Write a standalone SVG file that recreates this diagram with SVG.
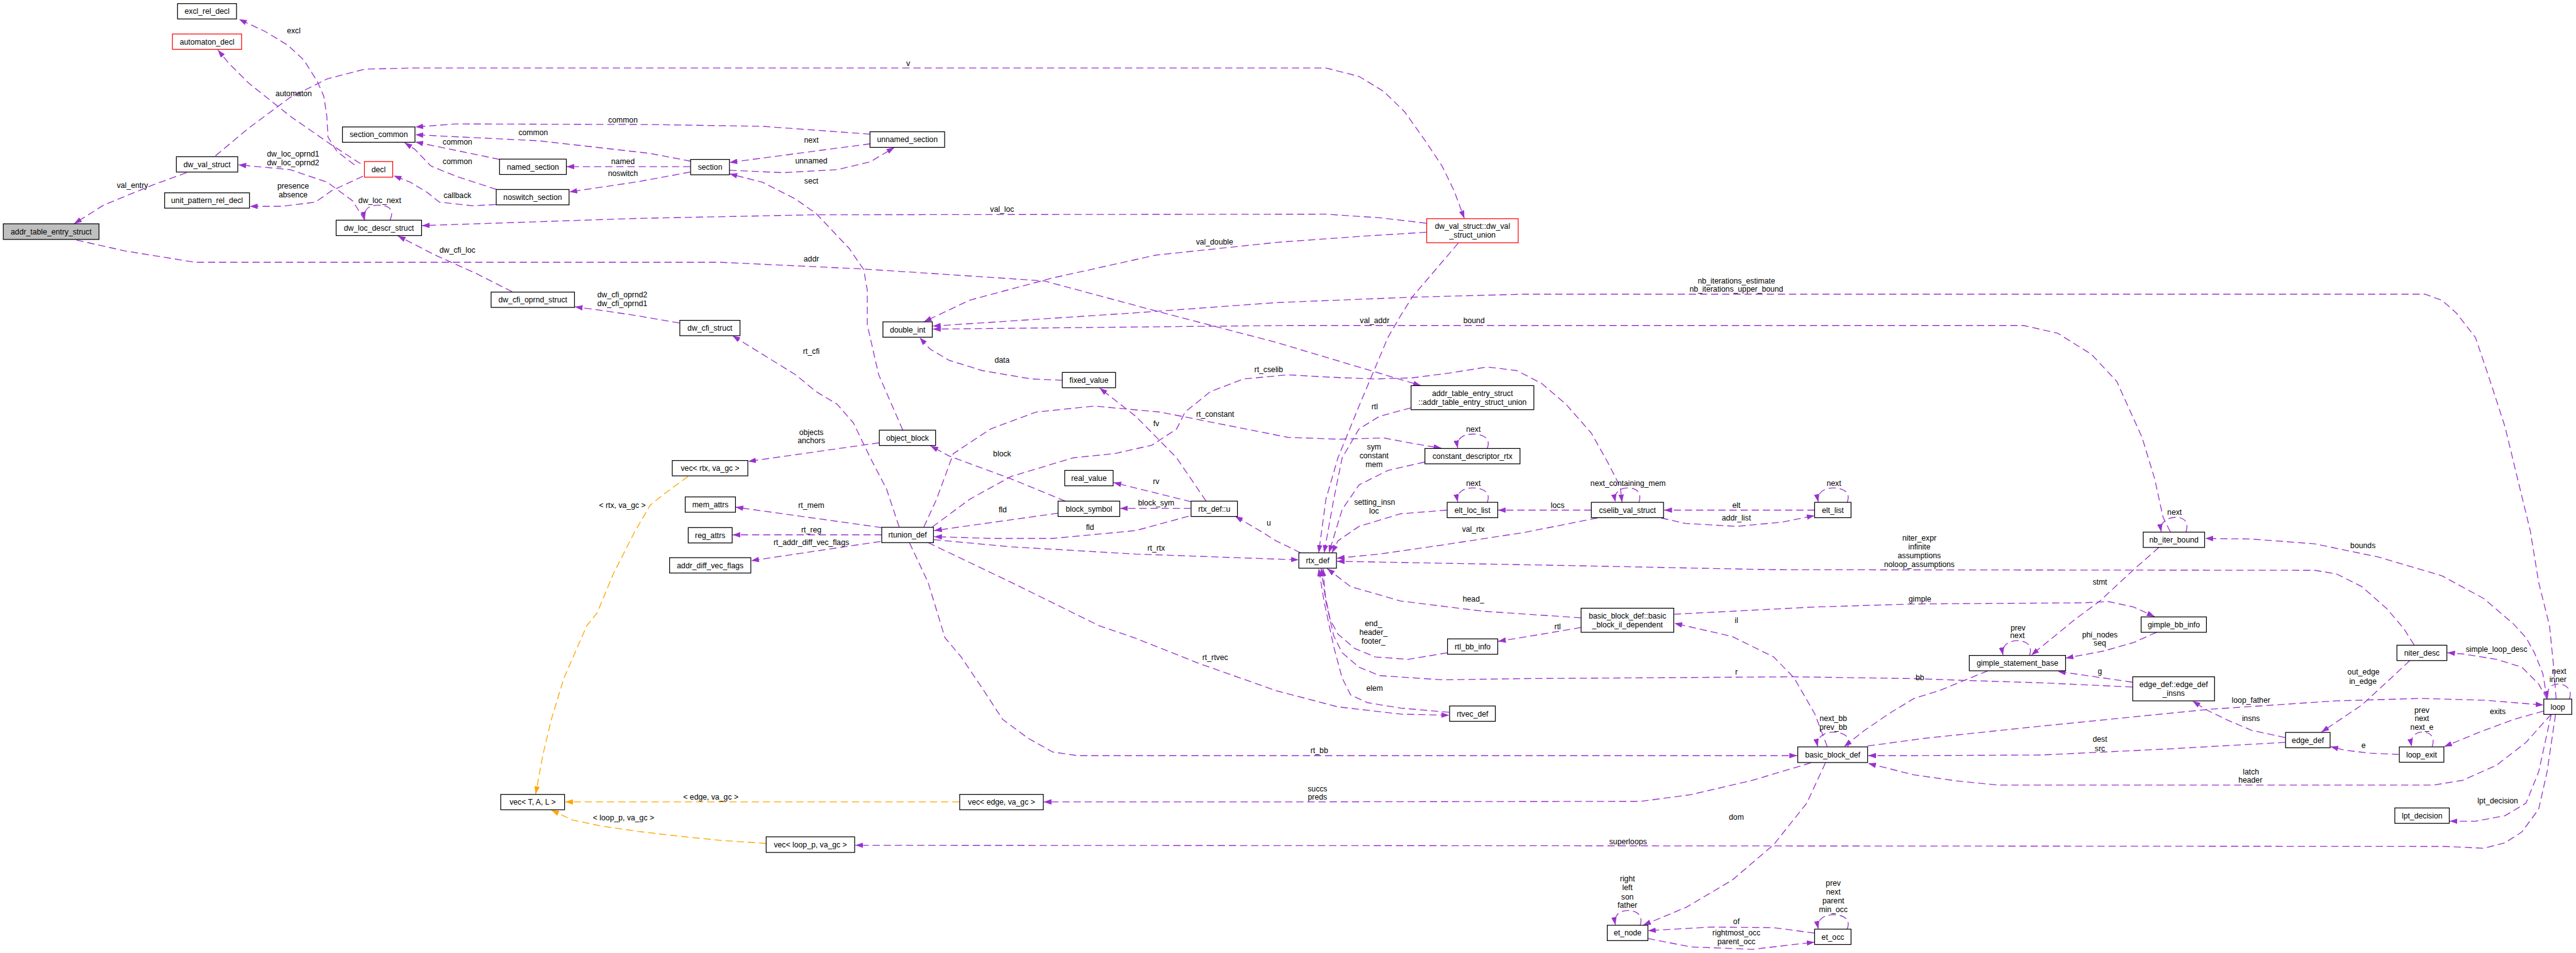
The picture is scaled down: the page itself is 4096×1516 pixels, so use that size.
<svg xmlns="http://www.w3.org/2000/svg" width="4096" height="1516" viewBox="0 0 4096 1516">
<style>
.e{fill:none;stroke:#9a32cd;stroke-width:1.4;stroke-dasharray:12 6.5;stroke-linejoin:round;marker-end:url(#ap)}
.o{fill:none;stroke:#ffa500;stroke-width:1.4;stroke-dasharray:12 6.5;stroke-linejoin:round;marker-end:url(#ao)}
.n rect{fill:#fff;stroke:#000;stroke-width:1.3}
.r rect{stroke:#ff0000}
.g rect{fill:#bfbfbf}
text{font-family:"Liberation Sans",Arial,Helvetica,sans-serif;font-size:12.8px;fill:#000;text-anchor:middle}
</style>
<defs>
<marker id="ap" markerUnits="userSpaceOnUse" viewBox="0 0 13 9" markerWidth="13" markerHeight="9" refX="13" refY="4.5" orient="auto"><path d="M0,0 L13,4.5 L0,9 z" fill="#9a32cd"/></marker>
<marker id="ao" markerUnits="userSpaceOnUse" viewBox="0 0 13 9" markerWidth="13" markerHeight="9" refX="13" refY="4.5" orient="auto"><path d="M0,0 L13,4.5 L0,9 z" fill="#ffa500"/></marker>
</defs>
<rect width="4096" height="1516" fill="#fff"/>
<g transform="scale(0.957)">
<g id="connectors">
<path class="e" d="M589,274 L560,252 L545,228 L543,193 L538,160 L527,135 L505,100 L478,75 L440,52 L397,32"/>
<path class="e" d="M599,272 L551,241 L482,193 L413,138 L380,105 L362,83"/>
<path class="e" d="M358,259 L413,213 L482,162 L544,131 L606,115 L689,113 L2203,113 L2258,127 L2299,152 L2334,186 L2368,234 L2396,276 L2416,317 L2433,363"/>
<path class="e" d="M310,287 L255,307 L172,341 L123,372"/>
<path class="e" d="M606,366 L586,334 L544,303 L482,282 L396,274"/>
<path class="e" d="M603,293 L551,317 L524,336 L468,343 L415,343"/>
<path class="e" d="M648,366 C656,348 646,341 628,341 C611,341 603,350 606,365"/>
<path class="e" d="M824,340 L785,342 L730,336 L710,320 L682,303 L654,292"/>
<path class="e" d="M1446,223 L1267,210 L1080,207 L758,206 L690,211"/>
<path class="e" d="M1148,268 L1080,255 L895,234 L690,224"/>
<path class="e" d="M830,265 L690,236"/>
<path class="e" d="M825,315 L758,293 L716,276 L689,248 L672,237"/>
<path class="e" d="M1147,277 L941,277"/>
<path class="e" d="M1147,286 L1060,302 L1000,311 L946,319"/>
<path class="e" d="M1446,239 L1212,270"/>
<path class="e" d="M1212,283 L1301,287 L1391,282 L1446,269 L1486,245"/>
<path class="e" d="M1500,715 L1460,623 L1441,540 L1441,482 L1435,448 L1411,413 L1356,355 L1322,331 L1267,303 L1212,289"/>
<path class="e" d="M851,485 L792,455 L723,424 L661,392"/>
<path class="e" d="M1129,537 L1060,525 L1000,516 L955,510"/>
<path class="e" d="M2370,371 L2292,362 L2203,356 L1356,357 L1060,363 L701,375"/>
<path class="e" d="M127,399 L207,417 L324,436 L1198,436 L1432,447 L1600,458 L1735,467 L1921,517 L2120,569 L2361,641"/>
<path class="e" d="M2370,386 L2258,393 L2120,403 L1921,424 L1749,462 L1611,499 L1535,535"/>
<path class="e" d="M4247,1162 L4243,1109 L4236,1040 L4218,968 L4204,882 L4183,796 L4162,709 L4134,623 L4113,561 L4081,520 L4057,499 L4029,489 L2533,489 L2347,494 L2120,503 L1887,520 L1550,542"/>
<path class="e" d="M3606,884 L3594,860 L3580,796 L3559,727 L3517,634 L3475,589 L3419,554 L3362,541 L2140,541 L1550,547"/>
<path class="e" d="M2423,404 L2347,493 L2327,525 L2306,561 L2258,675 L2223,761 L2203,830 L2191,919"/>
<path class="e" d="M1494,876 L1473,813 L1446,761 L1418,703 L1391,672 L1356,651 L1322,623 L1267,589 L1217,558"/>
<path class="e" d="M1765,632 L1714,630 L1632,616 L1577,599 L1545,580 L1528,561"/>
<path class="e" d="M1461,736 L1243,767"/>
<path class="e" d="M2004,833 L1955,761 L1887,692 L1827,645"/>
<path class="e" d="M1535,876 L1556,830 L1584,754 L1646,713 L1721,685 L1818,675 L1928,685 L2140,727 L2223,730 L2299,728 L2347,737 L2395,745"/>
<path class="e" d="M1549,876 L1611,830 L1680,792 L1783,761 L1852,754 L1914,740 L1955,713 L1969,685 L2011,651 L2066,630 L2140,623 L2210,627 L2285,630 L2347,628 L2409,620 L2471,610 L2520,616 L2561,637 L2602,672 L2644,720 L2671,768 L2692,809 L2695,835"/>
<path class="e" d="M1770,833 L1680,796 L1577,758 L1546,741"/>
<path class="e" d="M1979,834 L1850,802"/>
<path class="e" d="M1979,845 L1861,845"/>
<path class="e" d="M1758,853 L1552,882"/>
<path class="e" d="M1975,858 L1887,882 L1749,895 L1646,895 L1552,892"/>
<path class="e" d="M1551,897 L1680,909 L1887,921 L2140,930 L2158,930.5"/>
<path class="e" d="M2161,919 L2141,909 L2120,899 L2093,882 L2052,858"/>
<path class="e" d="M1465,877 L1222,843"/>
<path class="e" d="M1465,889 L1217,889"/>
<path class="e" d="M1463,900 L1248,932"/>
<path class="e" d="M2344,678 L2292,692 L2258,713 L2230,761 L2216,830 L2200,919"/>
<path class="e" d="M2367,768 L2306,782 L2258,806 L2230,847 L2208,919"/>
<path class="e" d="M2471,745.5 C2478,728 2463,721.5 2447,721.5 C2430,721.5 2419,730 2422,745"/>
<path class="e" d="M2471,835 C2478,818 2463,811 2447,811 C2430,811 2419,820 2422,834.5"/>
<path class="e" d="M2404,848 L2327,854 L2258,875 L2223,899 L2213,919"/>
<path class="e" d="M2644,848 L2489,848"/>
<path class="e" d="M2723,835 C2729,818 2718,811 2705,811 C2690,811 2681,820 2684,834.5"/>
<path class="e" d="M3015,848 L2765,848"/>
<path class="e" d="M2760,861 L2800,870 L2885,875 L2960,868 L3015,857"/>
<path class="e" d="M3069,835 C3076,818 3062,811 3046,811 C3030,811 3018,820 3021,834.5"/>
<path class="e" d="M2654,861 L2533,885 L2396,906 L2292,921 L2221,928"/>
<path class="e" d="M4011,1072 L3994,1045 L3966,1012 L3924,975 L3882,954 L3846,948 L2947,947 L2602,940 L2221,933"/>
<path class="e" d="M2627,1027 L2464,1016 L2327,999 L2244,975 L2205,945"/>
<path class="e" d="M2781,1021 L3015,1009 L3180,1004 L3461,1002 L3503,1000 L3545,1009 L3580,1025"/>
<path class="e" d="M2627,1043 L2533,1059 L2489,1066"/>
<path class="e" d="M3036,1241 L3015,1186 L2981,1127 L2947,1092 L2878,1058 L2782,1036"/>
<path class="e" d="M2405,1085 L2340,1096 L2285,1092 L2251,1078 L2223,1054 L2210,1030 L2202,990 L2198,945"/>
<path class="e" d="M3543,1142 L3391,1135 L3264,1131 L3180,1128 L2981,1125 L2533,1128 L2396,1130 L2292,1123 L2258,1109 L2230,1085 L2216,1057 L2203,1000 L2195,945"/>
<path class="e" d="M2408,1184 L2327,1177 L2272,1168 L2244,1155 L2230,1127 L2216,1075 L2200,1000 L2191,945"/>
<path class="e" d="M1511,902 L1542,968 L1570,1060 L1597,1092 L1632,1144 L1666,1196 L1708,1227 L1749,1250 L1790,1256 L2986,1256"/>
<path class="e" d="M1542,902 L1680,968 L1826,1040 L1887,1061 L1990,1102 L2120,1148 L2223,1175 L2327,1187 L2408,1189"/>
<path class="e" d="M3070,1241.5 C3077,1224 3062,1217 3046,1217 C3030,1217 3017,1226 3020,1241"/>
<path class="e" d="M3009,1268 L2912,1297 L2809,1321 L2726,1332 L2120,1333 L1734,1333"/>
<path class="e" d="M3033,1268 L3002,1335 L2947,1404 L2878,1463 L2802,1508 L2730,1538"/>
<path class="e" d="M4246,1188 L4232,1283 L4218,1345 L4190,1383 L4162,1401 L4127,1410 L4064,1407 L1421,1405"/>
<path class="e" d="M2725,1538 C2731,1521 2719,1513.5 2705,1513.5 C2690,1513.5 2681,1522 2684,1537.5"/>
<path class="e" d="M3015,1551 L2947,1542 L2843,1541 L2738,1547"/>
<path class="e" d="M2738,1560 L2809,1574 L2912,1578 L3015,1566"/>
<path class="e" d="M3069,1544.5 C3076,1527 3062,1520.5 3046,1520.5 C3030,1520.5 3018,1529 3021,1544"/>
<path class="o" d="M1143,792 L1101,823 L1080,840 L1054,885 L1019,954 L992,1019 L975,1040 L937,1127 L916,1196 L902,1255 L890,1320"/>
<path class="o" d="M1594,1333 L939,1333"/>
<path class="o" d="M1273,1402 L1198,1397 L1129,1390 L1060,1382 L999,1373 L951,1363 L916,1346.5"/>
<path class="e" d="M3632,884.5 C3638,867 3628,860 3615,860 C3600,860 3588,869 3591,884"/>
<path class="e" d="M4232,1162 L4225,1120 L4211,1085 L4197,1060 L4176,1037 L4127,995 L4057,957 L3952,926 L3846,904 L3741,896 L3664,895"/>
<path class="e" d="M3587,910 L3545,947 L3489,999 L3447,1030 L3375,1089"/>
<path class="e" d="M3372,1089.5 C3378,1072 3366,1065 3352,1065 C3336,1065 3325,1074 3328,1089"/>
<path class="e" d="M3583,1051 L3545,1068 L3496,1082 L3432,1094"/>
<path class="e" d="M3543,1134 L3419,1116"/>
<path class="e" d="M3303,1115 L3222,1148 L3180,1161 L3139,1186 L3098,1214 L3064,1241"/>
<path class="e" d="M3103,1240 L3200,1227 L3391,1207 L3671,1179 L3882,1165 L4022,1161 L4130,1164 L4226,1172"/>
<path class="e" d="M3797,1234 L3601,1245 L3391,1255 L3180,1256 L3104,1256"/>
<path class="e" d="M4239,1187 L4197,1234 L4148,1272 L4092,1297 L4043,1305 L3320,1305 L3250,1298 L3180,1288 L3104,1269"/>
<path class="e" d="M3797,1226 L3741,1214 L3699,1196 L3664,1179 L3643,1165"/>
<path class="e" d="M4004,1098 L3973,1127 L3924,1172 L3857,1217"/>
<path class="e" d="M4232,1162 L4218,1137 L4190,1109 L4148,1096 L4092,1087 L4066,1085"/>
<path class="e" d="M4269,1162 C4275,1145 4262,1137 4250,1137 C4238,1137 4230,1146 4233,1161.5"/>
<path class="e" d="M4226,1182 L4176,1196 L4120,1217 L4061,1241"/>
<path class="e" d="M4041,1241.5 C4047,1224 4037,1217 4025,1217 C4012,1217 4004,1226 4007,1241"/>
<path class="e" d="M3986,1254 L3938,1252 L3896,1247 L3872,1241"/>
<path class="e" d="M4239,1187 L4218,1283 L4197,1335 L4162,1356 L4113,1365 L4070,1365"/>
</g>
<g id="labels">
<text x="488" y="55.5">excl</text>
<text x="488" y="159.5">automaton</text>
<text x="1509" y="109.5">v</text>
<text x="220" y="312">val_entry</text>
<text x="487" y="260.5">dw_loc_oprnd1</text>
<text x="487" y="275">dw_loc_oprnd2</text>
<text x="487" y="313.5">presence</text>
<text x="487" y="328">absence</text>
<text x="631" y="337">dw_loc_next</text>
<text x="760" y="329">callback</text>
<text x="1035" y="203.5">common</text>
<text x="886" y="225">common</text>
<text x="760" y="240.5">common</text>
<text x="760" y="272.5">common</text>
<text x="1035" y="273">named</text>
<text x="1035" y="293">noswitch</text>
<text x="760" y="420.5">dw_cfi_loc</text>
<text x="1034" y="494.5">dw_cfi_oprnd2</text>
<text x="1034" y="509">dw_cfi_oprnd1</text>
<text x="1348" y="237">next</text>
<text x="1348" y="272">unnamed</text>
<text x="1348" y="305">sect</text>
<text x="1665" y="352">val_loc</text>
<text x="1348" y="435">addr</text>
<text x="2018" y="406.5">val_double</text>
<text x="2885" y="471">nb_iterations_estimate</text>
<text x="2885" y="485">nb_iterations_upper_bound</text>
<text x="2284" y="537">val_addr</text>
<text x="2449" y="537">bound</text>
<text x="1348" y="588">rt_cfi</text>
<text x="1665" y="603">data</text>
<text x="2108" y="619">rt_cselib</text>
<text x="2019" y="693">rt_constant</text>
<text x="1921" y="708">fv</text>
<text x="1348" y="723">objects</text>
<text x="1348" y="737">anchors</text>
<text x="1665" y="759">block</text>
<text x="1921" y="805">rv</text>
<text x="1921" y="840.5">block_sym</text>
<text x="1666" y="851.5">fld</text>
<text x="1348" y="844">rt_mem</text>
<text x="2108" y="874">u</text>
<text x="1811" y="881">fld</text>
<text x="1348" y="885.5">rt_reg</text>
<text x="1348" y="905.5">rt_addr_diff_vec_flags</text>
<text x="1921" y="915.5">rt_rtx</text>
<text x="2284" y="680">rtl</text>
<text x="2448" y="717.5">next</text>
<text x="2283" y="747.5">sym</text>
<text x="2283" y="761.5">constant</text>
<text x="2283" y="776.5">mem</text>
<text x="2448" y="807.5">next</text>
<text x="2705" y="807.5">next_containing_mem</text>
<text x="3047" y="807.5">next</text>
<text x="2284" y="839">setting_insn</text>
<text x="2283" y="853.5">loc</text>
<text x="2588" y="844">locs</text>
<text x="2885" y="844">elt</text>
<text x="2885" y="865.5">addr_list</text>
<text x="2448" y="884.5">val_rtx</text>
<text x="3189" y="899">niter_expr</text>
<text x="3189" y="913">infinite</text>
<text x="3189" y="928">assumptions</text>
<text x="3189" y="943">noloop_assumptions</text>
<text x="2448" y="1000">head_</text>
<text x="3190" y="999.5">gimple</text>
<text x="2588" y="1045.5">rtl</text>
<text x="2885" y="1036">il</text>
<text x="2282" y="1040.5">end_</text>
<text x="2282" y="1055">header_</text>
<text x="2282" y="1069.5">footer_</text>
<text x="2885" y="1121.5">r</text>
<text x="3190" y="1130.5">bb</text>
<text x="2284" y="1148">elem</text>
<text x="2019" y="1097">rt_rtvec</text>
<text x="2192" y="1252">rt_bb</text>
<text x="3046" y="1199">next_bb</text>
<text x="3046" y="1213.5">prev_bb</text>
<text x="2189" y="1315.5">succs</text>
<text x="2189" y="1329.5">preds</text>
<text x="2885" y="1363">dom</text>
<text x="2705" y="1403.5">superloops</text>
<text x="2704" y="1465">right</text>
<text x="2704" y="1480">left</text>
<text x="2704" y="1495">son</text>
<text x="2704" y="1509">father</text>
<text x="2885" y="1536.5">of</text>
<text x="2885" y="1555">rightmost_occ</text>
<text x="2885" y="1569.5">parent_occ</text>
<text x="3046" y="1472.5">prev</text>
<text x="3046" y="1487">next</text>
<text x="3046" y="1501.5">parent</text>
<text x="3046" y="1516">min_occ</text>
<text x="3613" y="856">next</text>
<text x="3926" y="911">bounds</text>
<text x="3489" y="971.5">stmt</text>
<text x="3353" y="1048">prev</text>
<text x="3352" y="1061">next</text>
<text x="3489" y="1059.5">phi_nodes</text>
<text x="3489" y="1073">seq</text>
<text x="3489" y="1120">g</text>
<text x="4148" y="1083.5">simple_loop_desc</text>
<text x="4252" y="1120">next</text>
<text x="4250" y="1134">inner</text>
<text x="3927" y="1121.5">out_edge</text>
<text x="3926" y="1136.5">in_edge</text>
<text x="3740" y="1168">loop_father</text>
<text x="4150" y="1187.5">exits</text>
<text x="4024" y="1184.5">prev</text>
<text x="4024" y="1199">next</text>
<text x="4024" y="1213.5">next_e</text>
<text x="3740" y="1199">insns</text>
<text x="3489" y="1233">dest</text>
<text x="3489" y="1248.5">src</text>
<text x="3927" y="1243">e</text>
<text x="3740" y="1287">latch</text>
<text x="3739" y="1301">header</text>
<text x="4150" y="1335">lpt_decision</text>
<text x="1034" y="844.5">&lt; rtx, va_gc &gt;</text>
<text x="1181" y="1329.5">&lt; edge, va_gc &gt;</text>
<text x="1036" y="1363.5">&lt; loop_p, va_gc &gt;</text>
</g>
<g id="nodes">
<g id="excl_rel_decl" class="n"><rect x="295" y="6" width="98" height="25.5"/><text x="344" y="23.3">excl_rel_decl</text></g>
<g id="automaton_decl" class="n r"><rect x="286.5" y="56.5" width="115" height="25.5"/><text x="344" y="73.8">automaton_decl</text></g>
<g id="section_common" class="n"><rect x="569" y="211" width="120.5" height="25.5"/><text x="629.3" y="228.3">section_common</text></g>
<g id="dw_val_struct" class="n"><rect x="293" y="260.5" width="102" height="25.5"/><text x="344" y="277.8">dw_val_struct</text></g>
<g id="decl" class="n r"><rect x="605.5" y="268.5" width="47" height="26"/><text x="629" y="286">decl</text></g>
<g id="named_section" class="n"><rect x="830" y="264.5" width="111" height="25.5"/><text x="885.5" y="281.8">named_section</text></g>
<g id="unit_pattern_rel_decl" class="n"><rect x="273.5" y="320.5" width="141" height="25.5"/><text x="344" y="337.8">unit_pattern_rel_decl</text></g>
<g id="noswitch_section" class="n"><rect x="824.5" y="315" width="121" height="25.5"/><text x="885" y="332.3">noswitch_section</text></g>
<g id="dw_loc_descr_struct" class="n"><rect x="558.5" y="366" width="142" height="25.5"/><text x="629.5" y="383.3">dw_loc_descr_struct</text></g>
<g id="addr_table_entry_struct" class="n g"><rect x="5.5" y="372" width="159" height="26"/><text x="85" y="389.5">addr_table_entry_struct</text></g>
<g id="dw_cfi_oprnd_struct" class="n"><rect x="816" y="485.5" width="138.5" height="25.5"/><text x="885.3" y="502.8">dw_cfi_oprnd_struct</text></g>
<g id="unnamed_section" class="n"><rect x="1445.5" y="219" width="124" height="26"/><text x="1507.5" y="236.5">unnamed_section</text></g>
<g id="section" class="n"><rect x="1147.5" y="265" width="64.5" height="25.5"/><text x="1179.8" y="282.3">section</text></g>
<g id="dw_val_struct_union" class="n r"><rect x="2370.5" y="363.5" width="152" height="40"/><text x="2446.5" y="380.5">dw_val_struct::dw_val</text><text x="2446.5" y="395.5">_struct_union</text></g>
<g id="dw_cfi_struct" class="n"><rect x="1129.5" y="532.5" width="100" height="25.5"/><text x="1179.5" y="549.8">dw_cfi_struct</text></g>
<g id="double_int" class="n"><rect x="1467" y="535" width="82" height="25.5"/><text x="1508" y="552.3">double_int</text></g>
<g id="fixed_value" class="n"><rect x="1765" y="619" width="88.5" height="25.5"/><text x="1809.3" y="636.3">fixed_value</text></g>
<g id="object_block" class="n"><rect x="1461" y="715" width="93.5" height="25.5"/><text x="1507.8" y="732.3">object_block</text></g>
<g id="vec_rtx" class="n"><rect x="1117" y="765.5" width="125.5" height="25.5"/><text x="1179.8" y="782.8">vec&lt; rtx, va_gc &gt;</text></g>
<g id="real_value" class="n"><rect x="1769" y="782" width="80.5" height="25.5"/><text x="1809.3" y="799.3">real_value</text></g>
<g id="mem_attrs" class="n"><rect x="1138.5" y="826" width="83.5" height="25.5"/><text x="1180.3" y="843.3">mem_attrs</text></g>
<g id="block_symbol" class="n"><rect x="1758" y="833" width="102.5" height="25.5"/><text x="1809.3" y="850.3">block_symbol</text></g>
<g id="rtx_def_u" class="n"><rect x="1979" y="833" width="77" height="25.5"/><text x="2017.5" y="850.3">rtx_def::u</text></g>
<g id="rtunion_def" class="n"><rect x="1465" y="876.5" width="86" height="25.5"/><text x="1508" y="893.8">rtunion_def</text></g>
<g id="reg_attrs" class="n"><rect x="1143.5" y="877" width="73" height="25.5"/><text x="1180" y="894.3">reg_attrs</text></g>
<g id="addr_diff_vec_flags" class="n"><rect x="1112.5" y="927" width="135" height="25.5"/><text x="1180" y="944.3">addr_diff_vec_flags</text></g>
<g id="addr_table_entry_struct_union" class="n"><rect x="2344.5" y="641" width="204" height="40"/><text x="2446.5" y="658">addr_table_entry_struct</text><text x="2446.5" y="673">::addr_table_entry_struct_union</text></g>
<g id="constant_descriptor_rtx" class="n"><rect x="2367.5" y="745.5" width="158" height="25.5"/><text x="2446.5" y="762.8">constant_descriptor_rtx</text></g>
<g id="elt_loc_list" class="n"><rect x="2404.5" y="835" width="84" height="25.5"/><text x="2446.5" y="852.3">elt_loc_list</text></g>
<g id="cselib_val_struct" class="n"><rect x="2644" y="835" width="120" height="25.5"/><text x="2704" y="852.3">cselib_val_struct</text></g>
<g id="elt_list" class="n"><rect x="3015" y="835" width="60.5" height="25.5"/><text x="3045.3" y="852.3">elt_list</text></g>
<g id="rtx_def" class="n"><rect x="2158" y="919" width="62.5" height="25.5"/><text x="2189.3" y="936.3">rtx_def</text></g>
<g id="basic_block_il_dependent" class="n"><rect x="2627" y="1011" width="154" height="40"/><text x="2704" y="1028">basic_block_def::basic</text><text x="2704" y="1043">_block_il_dependent</text></g>
<g id="nb_iter_bound" class="n"><rect x="3561" y="884.5" width="102" height="25.5"/><text x="3612" y="901.8">nb_iter_bound</text></g>
<g id="gimple_bb_info" class="n"><rect x="3557.5" y="1025.5" width="108.5" height="25.5"/><text x="3611.8" y="1042.8">gimple_bb_info</text></g>
<g id="rtl_bb_info" class="n"><rect x="2405" y="1062" width="83.5" height="25.5"/><text x="2446.8" y="1079.3">rtl_bb_info</text></g>
<g id="rtvec_def" class="n"><rect x="2408.5" y="1173.5" width="76" height="25.5"/><text x="2446.5" y="1190.8">rtvec_def</text></g>
<g id="basic_block_def" class="n"><rect x="2987" y="1241.5" width="116" height="26"/><text x="3045" y="1259">basic_block_def</text></g>
<g id="et_node" class="n"><rect x="2670.5" y="1538" width="67.5" height="25.5"/><text x="2704.3" y="1555.3">et_node</text></g>
<g id="et_occ" class="n"><rect x="3015" y="1544.5" width="60.5" height="25.5"/><text x="3045.3" y="1561.8">et_occ</text></g>
<g id="vec_T_A_L" class="n"><rect x="832" y="1320.5" width="106" height="25.5"/><text x="885" y="1337.8">vec&lt; T, A, L &gt;</text></g>
<g id="vec_edge" class="n"><rect x="1594.5" y="1320.5" width="139" height="25.5"/><text x="1664" y="1337.8">vec&lt; edge, va_gc &gt;</text></g>
<g id="vec_loop_p" class="n"><rect x="1273" y="1391" width="147" height="26"/><text x="1346.5" y="1408.5">vec&lt; loop_p, va_gc &gt;</text></g>
<g id="gimple_statement_base" class="n"><rect x="3272" y="1089.5" width="160" height="25.5"/><text x="3352" y="1106.8">gimple_statement_base</text></g>
<g id="niter_desc" class="n"><rect x="3982.5" y="1072.5" width="83" height="25.5"/><text x="4024" y="1089.8">niter_desc</text></g>
<g id="edge_def_insns" class="n"><rect x="3543.5" y="1125" width="136" height="40"/><text x="3611.5" y="1142">edge_def::edge_def</text><text x="3611.5" y="1157">_insns</text></g>
<g id="loop" class="n"><rect x="4226.5" y="1162" width="46.5" height="25.5"/><text x="4249.8" y="1179.3">loop</text></g>
<g id="edge_def" class="n"><rect x="3797.5" y="1217.5" width="74" height="25.5"/><text x="3834.5" y="1234.8">edge_def</text></g>
<g id="loop_exit" class="n"><rect x="3986.5" y="1241.5" width="74" height="25.5"/><text x="4023.5" y="1258.8">loop_exit</text></g>
<g id="lpt_decision" class="n"><rect x="3979" y="1343" width="90.5" height="25.5"/><text x="4024.3" y="1360.3">lpt_decision</text></g>
</g>
</g>
</svg>
